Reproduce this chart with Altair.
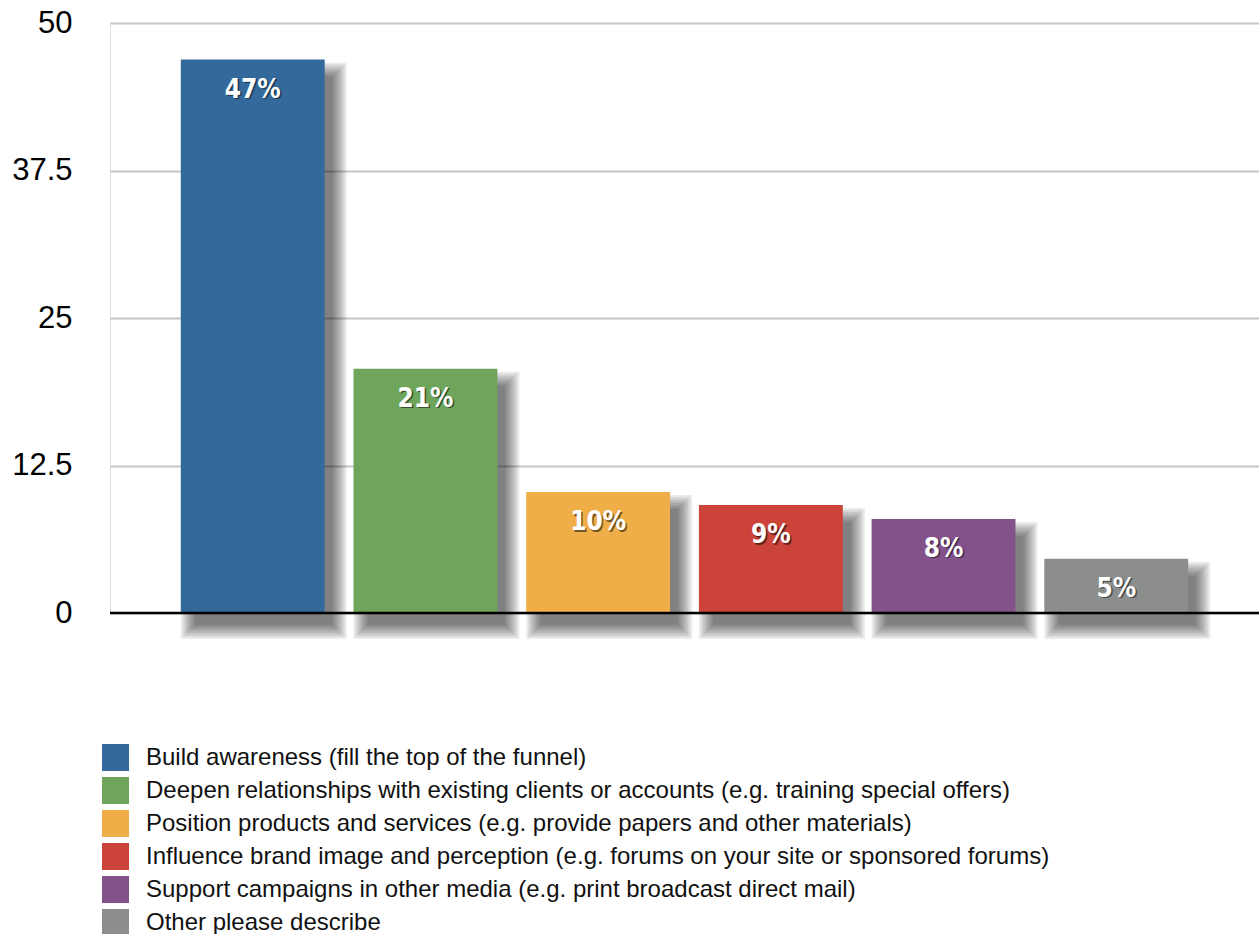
import altair as alt
import pandas as pd

categories = [
    "Build awareness (fill the top of the funnel)",
    "Deepen relationships with existing clients or accounts (e.g. training special offers)",
    "Position products and services (e.g. provide papers and other materials)",
    "Influence brand image and perception (e.g. forums on your site or sponsored forums)",
    "Support campaigns in other media (e.g. print broadcast direct mail)",
    "Other please describe",
]
values = [46.9, 20.7, 10.25, 9.15, 7.97, 4.6]
labels = ["47%", "21%", "10%", "9%", "8%", "5%"]
colors = ["#346a9b", "#6ea55a", "#efae47", "#cc4339", "#84528b", "#8c8e8d"]
y_ticks = [0, 12.5, 25, 37.5, 50]

df = pd.DataFrame({"cat": categories, "value": values, "label": labels})

x = alt.X("cat:N", sort=None, axis=None,
          scale=alt.Scale(paddingInner=0.167, paddingOuter=0.41))
y_scale = alt.Scale(domain=[0, 50], nice=False)
y = alt.Y("value:Q", scale=y_scale, title=None,
          axis=alt.Axis(values=y_ticks, labelExpr="'' + datum.value",
                        labelFontSize=31, labelFont="Liberation Sans",
                        labelColor="#000000", labelPadding=38,
                        domain=False, ticks=False, grid=True,
                        gridColor="#c6c6c6", gridWidth=2))

base = alt.Chart(df)

shadows = []
for k in range(0, 16, 2):
    shadows.append(
        base.mark_bar(color="#000000", opacity=0.08, size=138 + 2 * k,
                      xOffset=11, yOffset=17 - k, y2Offset=12 + k)
        .encode(x=x, y=alt.Y("value:Q", scale=y_scale), y2=alt.datum(0))
    )

bars = base.mark_bar().encode(
    x=x, y=y,
    color=alt.Color("cat:N", sort=None,
                    scale=alt.Scale(domain=categories, range=colors),
                    legend=alt.Legend(
                        title=None, orient="none", legendX=-8, legendY=721,
                        symbolType="square", symbolSize=729,
                        symbolStrokeWidth=0, symbolOpacity=1,
                        labelFontSize=24, labelFont="Liberation Sans",
                        labelColor="#111111", labelLimit=0,
                        labelOffset=17, rowPadding=6, padding=0)),
)

zero = alt.Chart(pd.DataFrame({"z": [0]})).mark_rule(
    color="#000000", strokeWidth=2.5).encode(y=alt.Y("z:Q", scale=y_scale))

label_font = "'DejaVu Sans Condensed', 'Liberation Sans', sans-serif"

text_shadow = base.mark_text(
    font=label_font, fontWeight="bold", fontSize=26,
    color="#000000", opacity=0.5, baseline="middle", dy=31.5, dx=1.5
).encode(x=x, y=alt.Y("value:Q", scale=y_scale), text="label:N")

text = base.mark_text(
    font=label_font, fontWeight="bold", fontSize=26,
    color="#ffffff", baseline="middle", dy=30
).encode(x=x, y=alt.Y("value:Q", scale=y_scale), text="label:N")

chart = alt.layer(*shadows, bars, zero, text_shadow, text).properties(
    width=1149, height=590,
    padding={"left": 110, "top": 23, "right": 0, "bottom": 321},
    autosize=alt.AutoSizeParams(type="none"),
).configure_view(stroke=None).configure(background="#ffffff")

chart.save("out.html", embed_options={"renderer": "svg", "actions": False})
